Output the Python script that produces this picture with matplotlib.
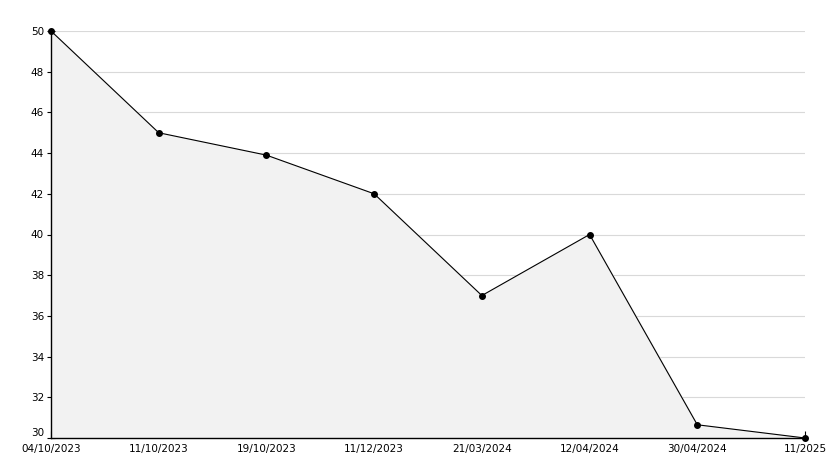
import matplotlib
matplotlib.use("Agg")
import matplotlib.pyplot as plt
import matplotlib.ticker as mticker

dates = ["04/10/2023", "11/10/2023", "19/10/2023", "11/12/2023",
         "21/03/2024", "12/04/2024", "30/04/2024", "11/2025"]
values = [50, 45, 43.9, 42, 37, 40, 30.65, 30]

fig = plt.figure(figsize=(8.34, 4.68), dpi=100)
ax = fig.add_axes([51 / 834, 30 / 468, 754 / 834, 407 / 468])

x = list(range(len(dates)))
ax.fill_between(x, values, 30, color="#f2f2f2", zorder=1)
ax.plot(x, values, color="black", linewidth=0.8, marker="o", markersize=4,
        zorder=3, clip_on=False)

ax.set_xlim(0, len(dates) - 1)
ax.set_ylim(30, 50)
ax.set_xticks(x)
ax.set_xticklabels(dates)
ax.yaxis.set_major_locator(mticker.MultipleLocator(2))
ax.yaxis.set_minor_locator(mticker.MultipleLocator(1))

ax.grid(True, axis="y", color="#d9d9d9", linewidth=0.8, zorder=0)
ax.set_axisbelow(True)
for side in ("top", "right"):
    ax.spines[side].set_visible(False)
for side in ("left", "bottom"):
    ax.spines[side].set_linewidth(1.0)

ax.tick_params(axis="y", which="major", direction="inout", length=6, labelsize=7.5, pad=2)
ax.tick_params(axis="y", which="minor", direction="in", length=3)
ax.tick_params(axis="x", which="major", direction="in", length=5, labelsize=7.5, pad=4)
# lift the bottom y label a touch so it sits clear of the first date
ax.get_yticklabels()[1].set_va("bottom")

fig.savefig("out.png", dpi=100)
